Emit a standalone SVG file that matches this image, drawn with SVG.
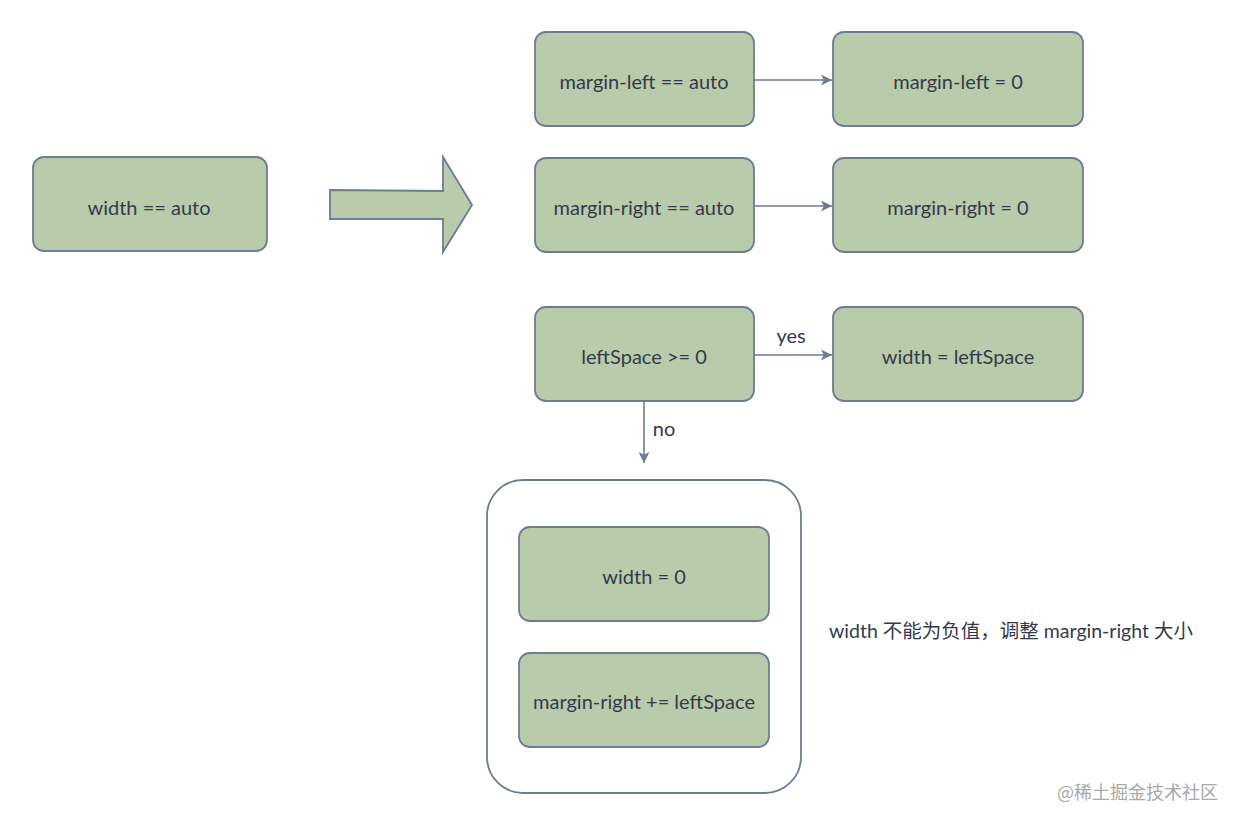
<svg xmlns="http://www.w3.org/2000/svg" width="1240" height="826" viewBox="0 0 1240 826">
  <defs>
    <style>
      .box { fill: #b8cbab; stroke: #6f7b93; stroke-width: 1.8; }
      .frame { fill: #ffffff; stroke: #6f7b93; stroke-width: 1.8; }
      .lbl { font-family: "Lato", "Noto Sans", "Noto Sans CJK SC", sans-serif; font-size: 20px; fill: #353a4a; text-anchor: middle; dominant-baseline: central; }
      .note { font-family: "Lato", "Noto Sans", "Noto Sans CJK SC", sans-serif; font-size: 19.5px; fill: #353a4a; }
      .wm { font-family: "Noto Sans CJK SC", sans-serif; font-size: 18px; fill: #a8a8a8; }
      .conn { stroke: #6f7b93; stroke-width: 1.6; fill: none; }
    </style>
    <marker id="ah" viewBox="0 0 10 10" refX="10" refY="5" markerWidth="11" markerHeight="11" markerUnits="userSpaceOnUse" orient="auto">
      <path d="M0,0 L10,5 L0,10 L2.5,5 Z" fill="#6f7b93"/>
    </marker>
  </defs>
  <rect width="1240" height="826" fill="#ffffff"/>

  <g id="n-width-auto">
    <rect class="box" x="33" y="157" width="234" height="94" rx="11"/>
    <text class="lbl" x="149" y="207">width == auto</text>
  </g>

  <g id="big-arrow">
    <path class="box" d="M330,190 L443,191 L443,157 L472,205 L443,252 L443,219 L330,219 Z"/>
  </g>

  <g id="n-ml-auto">
    <rect class="box" x="535" y="32" width="219" height="94" rx="11"/>
    <text class="lbl" x="644" y="81">margin-left == auto</text>
  </g>
  <g id="n-ml-0">
    <rect class="box" x="833" y="32" width="250" height="94" rx="11"/>
    <text class="lbl" x="958" y="81">margin-left = 0</text>
  </g>
  <g id="n-mr-auto">
    <rect class="box" x="535" y="158" width="219" height="94" rx="11"/>
    <text class="lbl" x="644" y="207">margin-right == auto</text>
  </g>
  <g id="n-mr-0">
    <rect class="box" x="833" y="158" width="250" height="94" rx="11"/>
    <text class="lbl" x="958" y="207">margin-right = 0</text>
  </g>
  <g id="n-leftspace">
    <rect class="box" x="535" y="307" width="219" height="94" rx="11"/>
    <text class="lbl" x="644" y="356">leftSpace &gt;= 0</text>
  </g>
  <g id="n-width-leftspace">
    <rect class="box" x="833" y="307" width="250" height="94" rx="11"/>
    <text class="lbl" x="958" y="356">width = leftSpace</text>
  </g>

  <g id="n-group">
    <rect class="frame" x="487" y="480" width="314" height="313" rx="36"/>
  </g>
  <g id="n-width-0">
    <rect class="box" x="519" y="527" width="250" height="94" rx="11"/>
    <text class="lbl" x="644" y="576">width = 0</text>
  </g>
  <g id="n-mr-plus">
    <rect class="box" x="519" y="653" width="250" height="94" rx="11"/>
    <text class="lbl" x="644" y="701">margin-right += leftSpace</text>
  </g>

  <g id="connectors">
    <line class="conn" x1="754" y1="80" x2="832" y2="80" marker-end="url(#ah)"/>
    <line class="conn" x1="754" y1="206" x2="832" y2="206" marker-end="url(#ah)"/>
    <line class="conn" x1="754" y1="355" x2="832" y2="355" marker-end="url(#ah)"/>
    <line class="conn" x1="644" y1="401" x2="644" y2="463" marker-end="url(#ah)"/>
    <text class="lbl" x="791" y="335">yes</text>
    <text class="lbl" x="664" y="428">no</text>
  </g>

  <g id="annotation">
    <text class="note" x="829" y="638">width 不能为负值，调整 margin-right 大小</text>
  </g>
  <g id="watermark">
    <text class="wm" x="1057" y="799">@稀土掘金技术社区</text>
  </g>
</svg>
